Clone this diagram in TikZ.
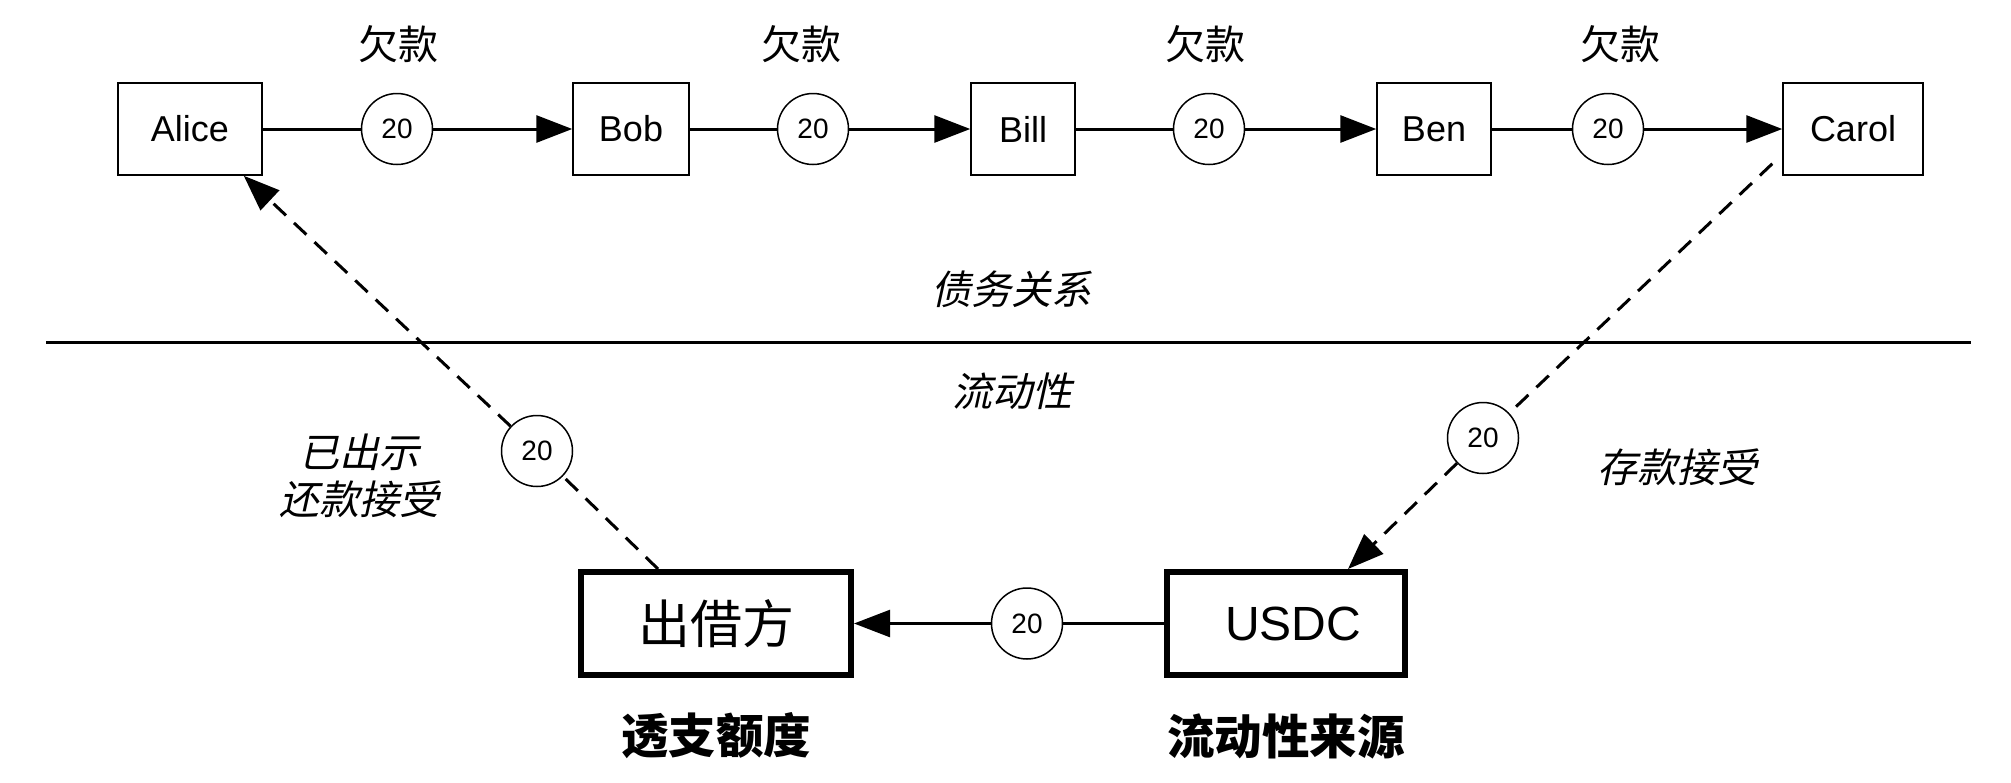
\documentclass[tikz,border=0pt]{standalone}
\usepackage{fontspec}
\setmainfont{Liberation Sans}
\newfontfamily\cjk{Noto Sans CJK SC}
\newfontfamily\cjkit{Noto Sans CJK SC}[FakeSlant=0.22]
\usetikzlibrary{arrows.meta,calc}
\begin{document}
\begin{tikzpicture}[x=1pt,y=-1pt,
  person/.style={draw,line width=1.5pt,minimum height=92pt,inner sep=0pt,font=\fontsize{36}{42}\selectfont},
  amount/.style={draw,circle,line width=1.5pt,minimum size=71pt,inner sep=0pt,fill=white,font=\fontsize{28}{32}\selectfont},
  bigbox/.style={draw,line width=6pt,minimum height=103pt,inner sep=0pt},
  flow/.style={line width=3pt},
  lowflow/.style={line width=2.5pt},
  dashline/.style={line width=3pt,dash pattern=on 17pt off 11pt},
  arrowto/.style={-{Triangle[length=36pt,width=27pt]}},
  debtlbl/.style={font=\cjk\fontsize{40}{46}\selectfont},
  itlbl/.style={font=\cjkit\fontsize{40}{47}\selectfont,align=center},
  boldlbl/.style={font=\cjk\bfseries\fontsize{47.5}{54}\selectfont}
]
\fill[white] (0,0) rectangle (2011,782);
\useasboundingbox (0,0) rectangle (2011,782);

% top row
\node[person,minimum width=144pt] (alice) at (190,129) {Alice};
\node[person,minimum width=116pt] (bob) at (631,129) {Bob};
\node[person,minimum width=104pt] (bill) at (1023,129) {Bill};
\node[person,minimum width=114pt] (ben) at (1434,129) {Ben};
\node[person,minimum width=140pt] (carol) at (1853,129) {Carol};

\node[amount] (c1) at (397,129) {20};
\node[amount] (c2) at (813,129) {20};
\node[amount] (c3) at (1209,129) {20};
\node[amount] (c4) at (1608,129) {20};

\draw[flow] (alice) -- (c1);
\draw[flow,arrowto] (c1) -- (bob);
\draw[flow] (bob) -- (c2);
\draw[flow,arrowto] (c2) -- (bill);
\draw[flow] (bill) -- (c3);
\draw[flow,arrowto] (c3) -- (ben);
\draw[flow] (ben) -- (c4);
\draw[flow,arrowto] (c4) -- (carol);

\node[debtlbl] (q1) at (398,44) {欠款};
\node[debtlbl] (q2) at (801,44) {欠款};
\node[debtlbl] (q3) at (1205,44) {欠款};
\node[debtlbl] (q4) at (1620,44) {欠款};

% divider
\coordinate (divl) at (46,342);
\coordinate (divr) at (1971,342);
\draw[line width=3pt] (divl) -- (divr);
\node[itlbl] (debt) at (1011,289) {债务关系};
\node[itlbl] (liq) at (1012,391) {流动性};

% bottom boxes
\node[bigbox,minimum width=270pt,font=\cjk\fontsize{52}{58}\selectfont] (lender) at (716,623.5) {出借方};
\node[bigbox,minimum width=238pt,font=\fontsize{48}{54}\selectfont] (usdc) at (1286,623.5) {\hspace*{14pt}USDC};
\node[boldlbl] (overdraft) at (716,736) {透支额度};
\node[boldlbl] (source) at (1286,736) {流动性来源};

\node[amount] (c5) at (1027,623.5) {20};
\draw[lowflow] (usdc) -- (c5);
\draw[lowflow,arrowto] (c5) -- (lender);

% dashed returns
\node[amount] (d1) at (537,451) {20};
\coordinate (lstart) at ($(lender.north west)+(80,0)$);
\coordinate (aend) at ($(alice.south east)+(-19,0)$);
\draw[dashline] (lstart) -- (d1);
\draw[dashline,arrowto] (d1) -- (aend);

\node[amount] (d2) at (1483,438) {20};
\coordinate (cstart) at ($(carol.south west)+(-10,-12)$);
\coordinate (uend) at ($(usdc.north west)+(184,0)$);
\draw[dashline] (cstart) -- (d2);
\draw[dashline,arrowto] (d2) -- (uend);

\node[itlbl] (shown) at (359,476) {已出示\\还款接受};
\node[itlbl] (deposit) at (1677,467) {存款接受};
\end{tikzpicture}
\end{document}
